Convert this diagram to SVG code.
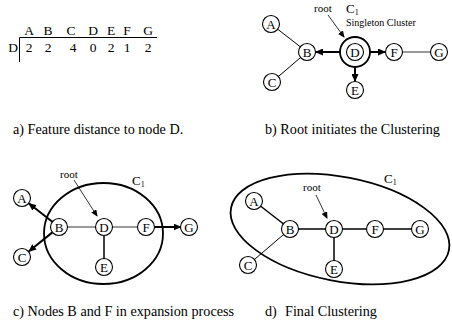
<svg xmlns="http://www.w3.org/2000/svg" width="452" height="326" viewBox="0 0 452 326" font-family="'Liberation Serif', 'DejaVu Serif', serif">
<style>
text{font-family:"Liberation Serif","DejaVu Serif",serif;fill:#000}
.lbl{font-size:13px;text-anchor:middle}
.tb{font-size:13.5px;text-anchor:middle}
.cap{font-size:14.2px}
.sm{font-size:11px}
.node circle{fill:#fff;stroke:#000;stroke-width:1.1}
.e{stroke:#000;stroke-width:1;fill:none}
.eg{stroke:#777;stroke-width:1.3;fill:none}
.ek{stroke:#000;stroke-width:1.5;fill:none}
.ar{stroke:#000;stroke-width:2;fill:none;marker-end:url(#ah)}
.ra{stroke:#000;stroke-width:0.8;fill:none;marker-end:url(#sh)}
.cl{fill:none;stroke:#000;stroke-width:1.8}
</style>
<defs>
<marker id="ah" markerUnits="userSpaceOnUse" markerWidth="8" markerHeight="7" refX="7" refY="3.5" orient="auto"><path d="M0,0L8,3.5L0,7z" fill="#000"/></marker>
<marker id="sh" markerUnits="userSpaceOnUse" markerWidth="7" markerHeight="6" refX="6" refY="3" orient="auto"><path d="M0,0L7,3L0,6z" fill="#000"/></marker>
</defs>

<g id="table">
<text class="tb" x="29" y="35">A</text><text class="tb" x="48" y="35">B</text><text class="tb" x="71" y="35">C</text><text class="tb" x="93" y="35">D</text><text class="tb" x="111" y="35">E</text><text class="tb" x="127" y="35">F</text><text class="tb" x="148" y="35">G</text>
<line x1="19.5" y1="37.5" x2="157" y2="37.5" stroke="#000" stroke-width="1"/>
<line x1="19.5" y1="37.5" x2="19.5" y2="62" stroke="#000" stroke-width="1"/>
<text class="tb" x="13" y="52">D</text>
<text class="tb" x="29" y="52">2</text><text class="tb" x="48" y="52">2</text><text class="tb" x="73" y="52">4</text><text class="tb" x="93" y="52">0</text><text class="tb" x="111" y="52">2</text><text class="tb" x="127" y="52">1</text><text class="tb" x="148" y="52">2</text>
</g>
<text class="cap" x="13" y="134">a) Feature distance to node D.</text>
<text class="cap" x="265" y="134">b) Root initiates the Clustering</text>
<text class="cap" x="13" y="316">c) Nodes B and F in expansion process</text>
<text class="cap" x="265" y="316">d)</text>
<text class="cap" x="285" y="316">Final Clustering</text>

<!-- panel b -->
<g id="connectors-b">
<line class="e" x1="271" y1="24" x2="307" y2="52"/>
<line class="e" x1="272" y1="82" x2="307" y2="52"/>
<line class="eg" x1="394" y1="52" x2="439" y2="52"/>
<line class="ar" x1="340" y1="52" x2="316" y2="52"/>
<line class="ar" x1="370" y1="52" x2="385" y2="52"/>
<line class="ar" x1="355" y1="67" x2="355" y2="81"/>
<line class="ra" x1="328" y1="15" x2="344" y2="37"/>
</g>
<text class="sm" x="314" y="12">root</text>
<text x="346" y="13" font-size="13">C<tspan font-size="8" dy="2">1</tspan></text>
<text x="346" y="26" font-size="10">Singleton Cluster</text>
<circle class="cl" cx="355" cy="52" r="15"/>
<g id="b-A" class="node"><circle cx="271" cy="24" r="8.5"/><text class="lbl" x="271" y="28.5">A</text></g>
<g id="b-B" class="node"><circle cx="307" cy="52" r="8.5"/><text class="lbl" x="307" y="56.5">B</text></g>
<g id="b-C" class="node"><circle cx="272" cy="82" r="8.5"/><text class="lbl" x="272" y="86.5">C</text></g>
<g id="b-D" class="node"><circle cx="355" cy="52" r="8.5"/><text class="lbl" x="355" y="56.5">D</text></g>
<g id="b-E" class="node"><circle cx="355" cy="90" r="8.5"/><text class="lbl" x="355" y="94.5">E</text></g>
<g id="b-F" class="node"><circle cx="394" cy="52" r="8.5"/><text class="lbl" x="394" y="56.5">F</text></g>
<g id="b-G" class="node"><circle cx="439" cy="52" r="8.5"/><text class="lbl" x="439" y="56.5">G</text></g>

<!-- panel c -->
<ellipse class="cl" cx="103.5" cy="233.5" rx="59.5" ry="50.5"/>
<g id="connectors-c">
<line class="eg" x1="59" y1="227" x2="104" y2="227"/>
<line class="eg" x1="104" y1="227" x2="146" y2="227"/>
<line class="ek" x1="104" y1="227" x2="104" y2="267"/>
<line class="ar" x1="52.3" y1="221.8" x2="29" y2="203.5"/>
<line class="ar" x1="52.4" y1="232.4" x2="29" y2="251.3"/>
<line class="ar" x1="154.5" y1="227" x2="180.5" y2="227"/>
<line class="ra" x1="74" y1="180" x2="97" y2="216"/>
</g>
<text class="sm" x="60" y="178">root</text>
<text x="132" y="185" font-size="13">C<tspan font-size="8" dy="2">1</tspan></text>
<g id="c-A" class="node"><circle cx="22" cy="198" r="8.5"/><text class="lbl" x="22" y="202.5">A</text></g>
<g id="c-B" class="node"><circle cx="59" cy="227" r="8.5"/><text class="lbl" x="59" y="231.5">B</text></g>
<g id="c-C" class="node"><circle cx="22" cy="257" r="8.5"/><text class="lbl" x="22" y="261.5">C</text></g>
<g id="c-D" class="node"><circle cx="104" cy="227" r="8.5"/><text class="lbl" x="104" y="231.5">D</text></g>
<g id="c-E" class="node"><circle cx="104" cy="267" r="8.5"/><text class="lbl" x="104" y="271.5">E</text></g>
<g id="c-F" class="node"><circle cx="146" cy="227" r="8.5"/><text class="lbl" x="146" y="231.5">F</text></g>
<g id="c-G" class="node"><circle cx="189" cy="227" r="8.5"/><text class="lbl" x="189" y="231.5">G</text></g>

<!-- panel d -->
<ellipse class="cl" cx="340" cy="229" rx="111" ry="52" transform="rotate(11 340 229)"/>
<g id="connectors-d">
<line class="ek" x1="254" y1="201" x2="290" y2="229"/>
<line class="e" x1="248" y1="265" x2="290" y2="229"/>
<line class="ek" x1="290" y1="229" x2="334" y2="229"/>
<line class="ek" x1="334" y1="229" x2="375" y2="229"/>
<line class="ek" x1="375" y1="229" x2="420" y2="229"/>
<line class="ek" x1="334" y1="229" x2="334" y2="269"/>
<line class="ra" x1="316" y1="195" x2="327" y2="218"/>
</g>
<text class="sm" x="303" y="191">root</text>
<text x="384" y="183" font-size="13">C<tspan font-size="8" dy="2">1</tspan></text>
<g id="d-A" class="node"><circle cx="254" cy="201" r="8.5"/><text class="lbl" x="254" y="205.5">A</text></g>
<g id="d-B" class="node"><circle cx="290" cy="229" r="8.5"/><text class="lbl" x="290" y="233.5">B</text></g>
<g id="d-C" class="node"><circle cx="248" cy="265" r="8.5"/><text class="lbl" x="248" y="269.5">C</text></g>
<g id="d-D" class="node"><circle cx="334" cy="229" r="8.5"/><text class="lbl" x="334" y="233.5">D</text></g>
<g id="d-E" class="node"><circle cx="334" cy="269" r="8.5"/><text class="lbl" x="334" y="273.5">E</text></g>
<g id="d-F" class="node"><circle cx="375" cy="229" r="8.5"/><text class="lbl" x="375" y="233.5">F</text></g>
<g id="d-G" class="node"><circle cx="420" cy="229" r="8.5"/><text class="lbl" x="420" y="233.5">G</text></g>
</svg>
